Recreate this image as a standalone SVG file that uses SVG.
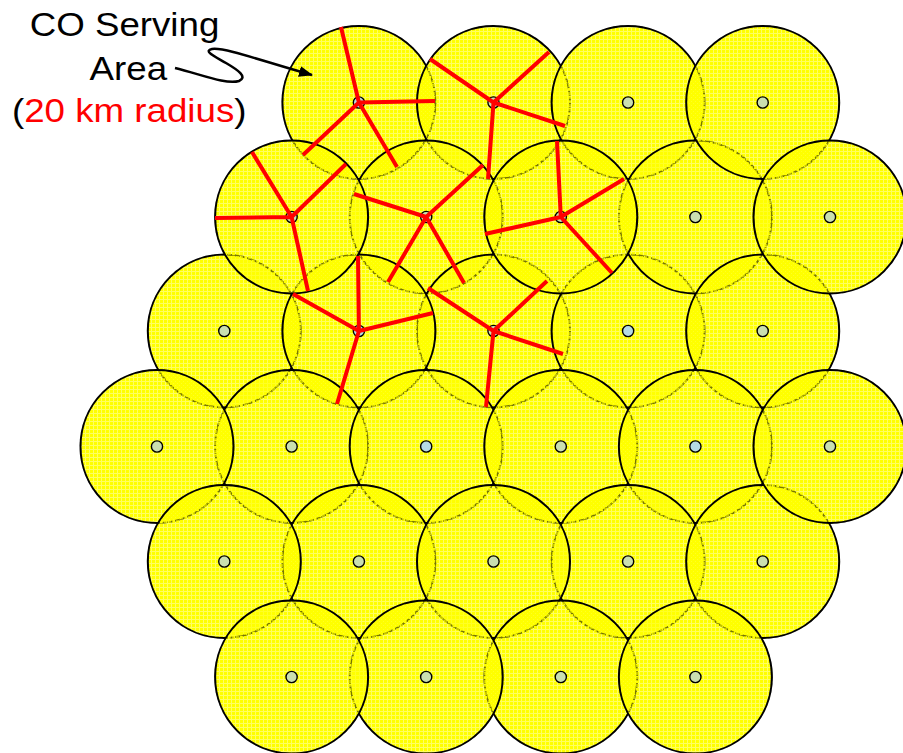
<svg xmlns="http://www.w3.org/2000/svg" width="903" height="753" viewBox="0 0 903 753">
<style>
.co{stroke:#000;stroke-width:2}
.c0{fill:url(#p0)}
.c1{fill:url(#p1)}
.c2{fill:url(#p0)}
.o{fill:#ff0}
.l{fill:#ff0;fill-opacity:.62}
.dot{stroke:#000;stroke-width:1.4;fill:#cadfb0}
.dot.b{fill:#b5dbe3}
.ghost circle{fill:none;stroke:#000;stroke-opacity:.25;stroke-width:1.8;stroke-dasharray:4 2.5}
.red{stroke:#f00;stroke-width:4;fill:none}
.lbl{font-family:"Liberation Sans",Arial,sans-serif;font-size:32.5px;text-anchor:middle}
</style>
<defs>
<pattern id="p0" patternUnits="userSpaceOnUse" width="4" height="4"><rect class="o" width="3" height="3"/><rect class="l" x="3" width="1" height="4"/><rect class="l" y="3" width="3" height="1"/></pattern>
<pattern id="p1" patternUnits="userSpaceOnUse" width="4" height="4"><rect class="o" width="1" height="1"/><rect class="o" x="2" width="2" height="1"/><rect class="o" y="2" width="1" height="2"/><rect class="o" x="2" y="2" width="2" height="2"/><rect class="l" x="1" width="1" height="4"/><rect class="l" y="1" width="1" height="1"/><rect class="l" x="2" y="1" width="2" height="1"/></pattern>
<marker id="ah" markerUnits="userSpaceOnUse" markerWidth="14" markerHeight="11" refX="13" refY="5.5" orient="auto"><path d="M0,0 L14,5.5 L0,11 z" fill="#000"/></marker>
</defs>
<g id="areas">
<g id="co-A0"><circle class="co c1" cx="358.9" cy="102.5" r="76.5"/><circle class="dot b" cx="358.9" cy="102.5" r="5.6"/></g>
<g id="co-A1"><circle class="co c2" cx="493.5" cy="102.5" r="76.5"/><circle class="dot" cx="493.5" cy="102.5" r="5.6"/></g>
<g id="co-A2"><circle class="co c0" cx="628.1" cy="102.5" r="76.5"/><circle class="dot" cx="628.1" cy="102.5" r="5.6"/></g>
<g id="co-B1"><circle class="co c0" cx="426.2" cy="217" r="76.5"/><circle class="dot" cx="426.2" cy="217" r="5.6"/></g>
<g id="co-C0"><circle class="co c0" cx="224.3" cy="331" r="76.5"/><circle class="dot" cx="224.3" cy="331" r="5.6"/></g>
<g id="co-C2"><circle class="co c2" cx="493.5" cy="331" r="76.5"/><circle class="dot" cx="493.5" cy="331" r="5.6"/></g>
<g id="co-C3"><circle class="co c0" cx="628.1" cy="331" r="76.5"/><circle class="dot b" cx="628.1" cy="331" r="5.6"/></g>
<g id="co-B3"><circle class="co c2" cx="695.4" cy="217" r="76.5"/><circle class="dot" cx="695.4" cy="217" r="5.6"/></g>
<g id="co-A3"><circle class="co c1" cx="762.7" cy="102.5" r="76.5"/><circle class="dot" cx="762.7" cy="102.5" r="5.6"/></g>
<g id="co-C4"><circle class="co c1" cx="762.7" cy="331" r="76.5"/><circle class="dot" cx="762.7" cy="331" r="5.6"/></g>
<g id="co-C1"><circle class="co c1" cx="358.9" cy="331" r="76.5"/><circle class="dot b" cx="358.9" cy="331" r="5.6"/></g>
<g id="co-B0"><circle class="co c2" cx="291.6" cy="217" r="76.5"/><circle class="dot" cx="291.6" cy="217" r="5.6"/></g>
<g id="co-B2"><circle class="co c1" cx="560.8" cy="217" r="76.5"/><circle class="dot" cx="560.8" cy="217" r="5.6"/></g>
<g id="co-B4"><circle class="co c0" cx="830" cy="217" r="76.5"/><circle class="dot" cx="830" cy="217" r="5.6"/></g>
<g id="co-D1"><circle class="co c2" cx="291.6" cy="446.5" r="76.5"/><circle class="dot" cx="291.6" cy="446.5" r="5.6"/></g>
<g id="co-D0"><circle class="co c1" cx="157" cy="446.5" r="76.5"/><circle class="dot" cx="157" cy="446.5" r="5.6"/></g>
<g id="co-D2"><circle class="co c0" cx="426.2" cy="446.5" r="76.5"/><circle class="dot b" cx="426.2" cy="446.5" r="5.6"/></g>
<g id="co-D3"><circle class="co c1" cx="560.8" cy="446.5" r="76.5"/><circle class="dot" cx="560.8" cy="446.5" r="5.6"/></g>
<g id="co-D4"><circle class="co c2" cx="695.4" cy="446.5" r="76.5"/><circle class="dot b" cx="695.4" cy="446.5" r="5.6"/></g>
<g id="co-E3"><circle class="co c0" cx="628.1" cy="561.5" r="76.5"/><circle class="dot" cx="628.1" cy="561.5" r="5.6"/></g>
<g id="co-E4"><circle class="co c1" cx="762.7" cy="561.5" r="76.5"/><circle class="dot" cx="762.7" cy="561.5" r="5.6"/></g>
<g id="co-D5"><circle class="co c0" cx="830" cy="446.5" r="76.5"/><circle class="dot" cx="830" cy="446.5" r="5.6"/></g>
<g id="co-E1"><circle class="co c1" cx="358.9" cy="561.5" r="76.5"/><circle class="dot" cx="358.9" cy="561.5" r="5.6"/></g>
<g id="co-E0"><circle class="co c0" cx="224.3" cy="561.5" r="76.5"/><circle class="dot" cx="224.3" cy="561.5" r="5.6"/></g>
<g id="co-E2"><circle class="co c2" cx="493.5" cy="561.5" r="76.5"/><circle class="dot" cx="493.5" cy="561.5" r="5.6"/></g>
<g id="co-F2"><circle class="co c1" cx="560.8" cy="677" r="76.5"/><circle class="dot" cx="560.8" cy="677" r="5.6"/></g>
<g id="co-F1"><circle class="co c0" cx="426.2" cy="677" r="76.5"/><circle class="dot" cx="426.2" cy="677" r="5.6"/></g>
<g id="co-F0"><circle class="co c2" cx="291.6" cy="677" r="76.5"/><circle class="dot" cx="291.6" cy="677" r="5.6"/></g>
<g id="co-F3"><circle class="co c2" cx="695.4" cy="677" r="76.5"/><circle class="dot" cx="695.4" cy="677" r="5.6"/></g>
</g>
<g class="ghost" id="hidden-edges">
<circle cx="358.9" cy="102.5" r="76.5"/><circle cx="493.5" cy="102.5" r="76.5"/><circle cx="628.1" cy="102.5" r="76.5"/><circle cx="762.7" cy="102.5" r="76.5"/>
<circle cx="291.6" cy="217" r="76.5"/><circle cx="426.2" cy="217" r="76.5"/><circle cx="560.8" cy="217" r="76.5"/><circle cx="695.4" cy="217" r="76.5"/><circle cx="830" cy="217" r="76.5"/>
<circle cx="224.3" cy="331" r="76.5"/><circle cx="358.9" cy="331" r="76.5"/><circle cx="493.5" cy="331" r="76.5"/><circle cx="628.1" cy="331" r="76.5"/><circle cx="762.7" cy="331" r="76.5"/>
<circle cx="157" cy="446.5" r="76.5"/><circle cx="291.6" cy="446.5" r="76.5"/><circle cx="426.2" cy="446.5" r="76.5"/><circle cx="560.8" cy="446.5" r="76.5"/><circle cx="695.4" cy="446.5" r="76.5"/><circle cx="830" cy="446.5" r="76.5"/>
<circle cx="224.3" cy="561.5" r="76.5"/><circle cx="358.9" cy="561.5" r="76.5"/><circle cx="493.5" cy="561.5" r="76.5"/><circle cx="628.1" cy="561.5" r="76.5"/><circle cx="762.7" cy="561.5" r="76.5"/>
<circle cx="291.6" cy="677" r="76.5"/><circle cx="426.2" cy="677" r="76.5"/><circle cx="560.8" cy="677" r="76.5"/><circle cx="695.4" cy="677" r="76.5"/>
</g>
<g id="connectors">
<path class="red" d="M358.9,102.5L341,27M358.9,102.5L435,101M358.9,102.5L397,167M358.9,102.5L303,155"/>
<path class="red" d="M493.5,102.5L430,59M493.5,102.5L549,52M493.5,102.5L565,126M493.5,102.5L488,179"/>
<path class="red" d="M291.6,217L252,152M291.6,217L346,164M291.6,217L215,218M291.6,217L308,291"/>
<path class="red" d="M426.2,217L354,194M426.2,217L483,165M426.2,217L388,282M426.2,217L464,283"/>
<path class="red" d="M560.8,217L557,141M560.8,217L624,179M560.8,217L485,234M560.8,217L612,273"/>
<path class="red" d="M358.9,331L358,256M358.9,331L293,294M358.9,331L433,313M358.9,331L337,404"/>
<path class="red" d="M493.5,331L428,288M493.5,331L547,281M493.5,331L563,354M493.5,331L486,407"/>
<path d="M175,68 C200,74 226,85 239,81 C248,77 238,70 226,63 C214,56 203,51 212,49 C224,47 262,61 312,75" fill="none" stroke="#000" stroke-width="2.5" marker-end="url(#ah)"/>
</g>
<g id="label" class="lbl">
<text transform="translate(124.5,35.5) scale(1.13,1)">CO Serving</text>
<text transform="translate(128.3,80) scale(1.13,1)">Area</text>
<text transform="translate(129.2,122) scale(1.13,1)">(<tspan fill="#f00">20 km radius</tspan>)</text>
</g>
</svg>
